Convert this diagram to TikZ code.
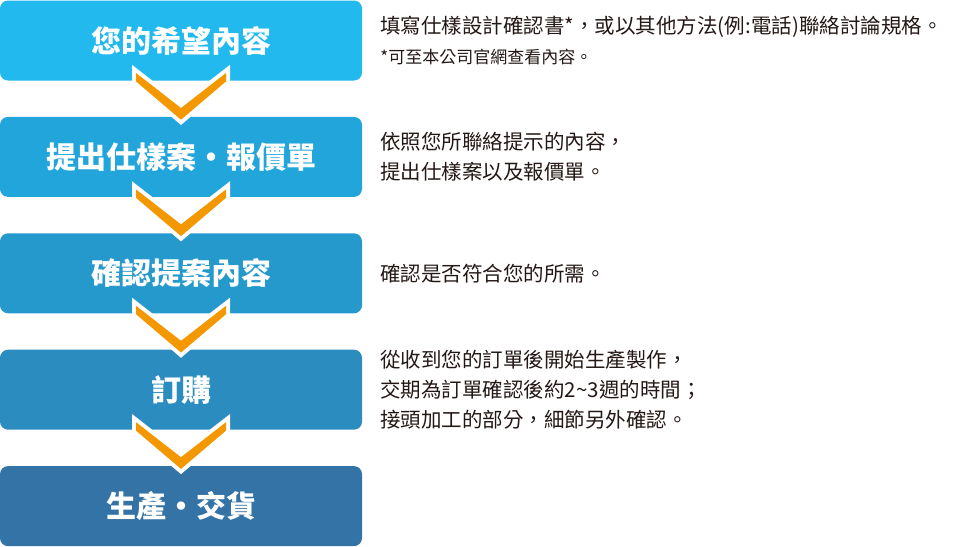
\documentclass[tikz,border=0pt]{standalone}
\usepackage{fontspec}
\usetikzlibrary{positioning}
\newfontfamily\cjk{Noto Sans CJK TC}
\definecolor{stage_one}{HTML}{21B9EE}
\definecolor{stage_two}{HTML}{22A5DB}
\definecolor{stage_three}{HTML}{2598CC}
\definecolor{stage_four}{HTML}{2B8CC0}
\definecolor{stage_five}{HTML}{3473A5}
\definecolor{arrow_orange}{HTML}{F39800}
\definecolor{text_dark}{HTML}{231815}

\begin{document}
\begin{tikzpicture}[
                        x=1pt, y=1pt,
                        stage/.style={rounded corners=8pt, minimum width=362pt, minimum height=80pt, inner sep=0pt, text=white, font=\cjk\bfseries\fontsize{30}{36}\selectfont},
                        note/.style={align=left, inner sep=0pt, text=text_dark, font=\cjk\fontsize{20.5}{30}\selectfont},
                        node distance=36pt and 18pt,
                        chevron/.pic={
                            \draw[white, line width=8pt, line join=miter] (-45,7.7) -- (0,-27.3) -- (45,7.7) -- (45,-0.7) -- (0,-39) -- (-45,-0.7) -- cycle;
                            \fill[arrow_orange] (-45,7.7) -- (0,-27.3) -- (45,7.7) -- (45,-0.7) -- (0,-39) -- (-45,-0.7) -- cycle;
                        },
                    ]
                        \useasboundingbox (0,0) rectangle (960,-546);

                        %nodes
                        \node[stage, fill=stage_one] (wish) at (181,-40.5) {您的希望內容};
                        \node[stage, fill=stage_two] (quote) [below=of wish] {提出仕樣案・報價單};
                        \node[stage, fill=stage_three] (confirm) [below=of quote] {確認提案內容};
                        \node[stage, fill=stage_four] (order) [below=of confirm] {訂購};
                        \node[stage, fill=stage_five] (delivery) [below=of order] {生產・交貨};

                        % notes
                        \node[note] (wish_note) [right=of wish] {填寫仕樣設計確認書*，或以其他方法(例:電話)聯絡討論規格。\\ {\fontsize{17}{30}\selectfont *可至本公司官網查看內容。}};
                        \node[note] (quote_note) [right=of quote] {依照您所聯絡提示的內容，\\ 提出仕樣案以及報價單。};
                        \node[note] (confirm_note) [right=of confirm] {確認是否符合您的所需。};
                        \node[note] (order_note) [right=of order] {從收到您的訂單後開始生產製作，\\ 交期為訂單確認後約2\textasciitilde 3週的時間；\\ 接頭加工的部分，細節另外確認。};

                        % connections
                        \foreach \a in {wish, quote, confirm, order} {
                            \pic at (\a.south) {chevron};
                        }
                    \end{tikzpicture}
\end{document}
